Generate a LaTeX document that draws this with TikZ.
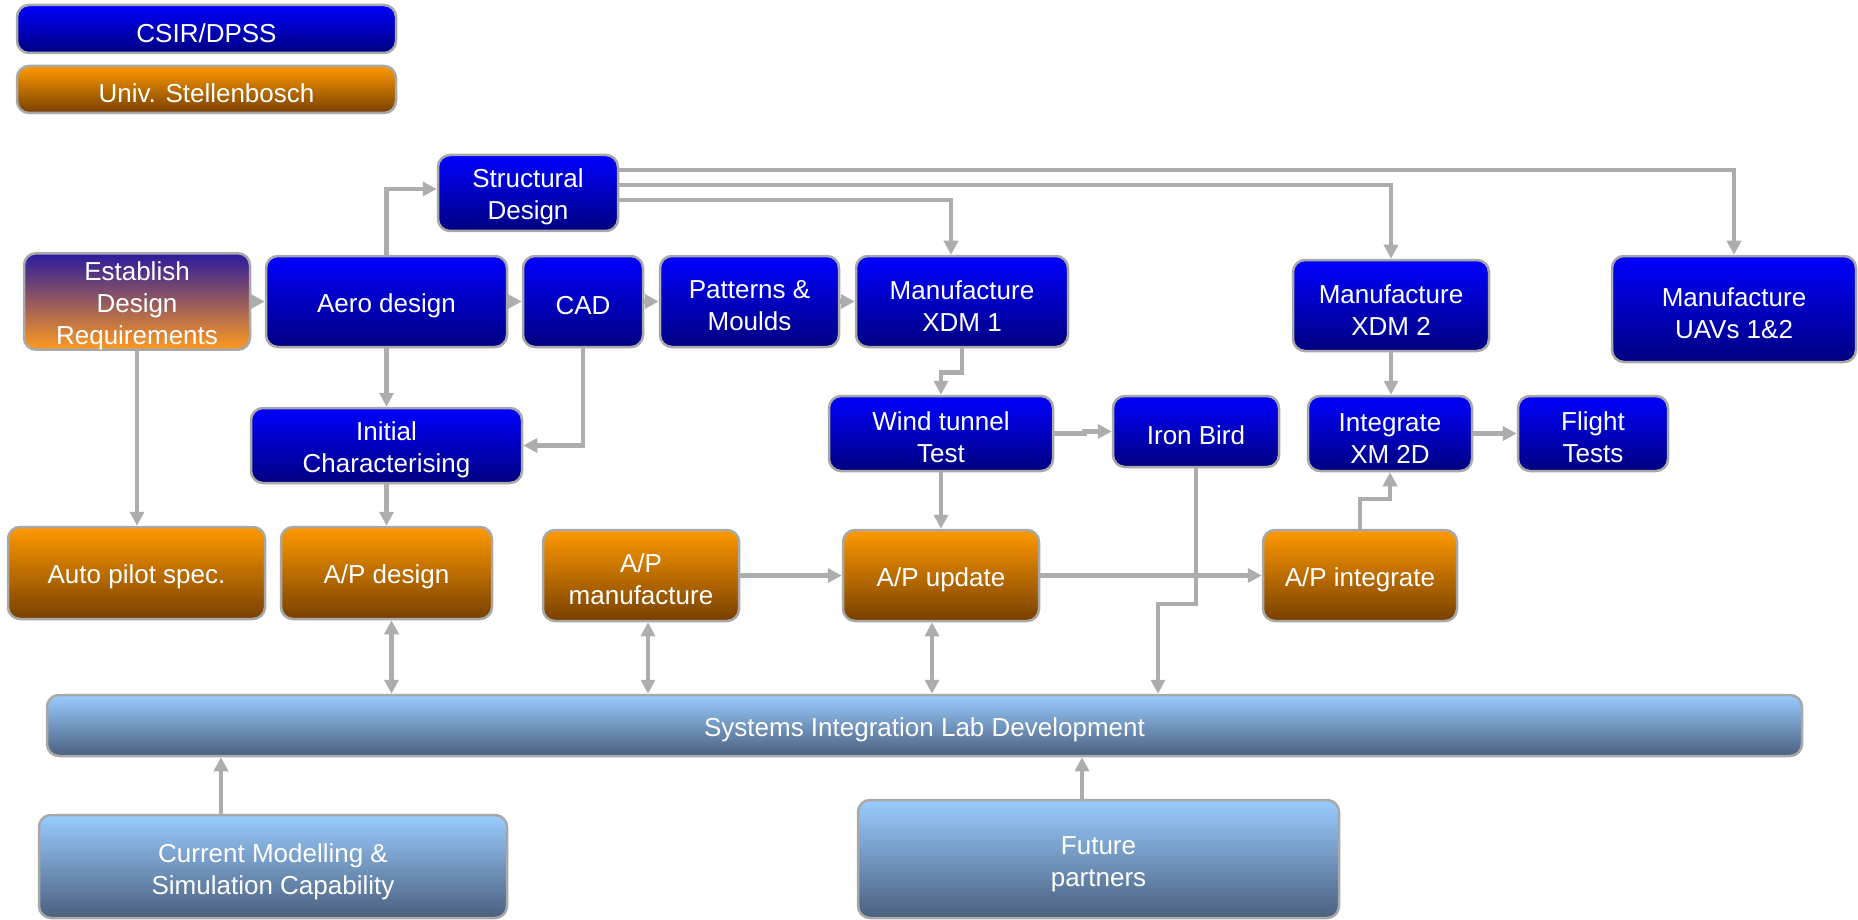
\documentclass[tikz,border=0pt]{standalone}
\usepackage{fontspec}
\setmainfont{Liberation Sans}
\usetikzlibrary{arrows.meta}
\definecolor{bluetop}{HTML}{0000FF}
\definecolor{bluebot}{HTML}{000080}
\definecolor{orgtop}{HTML}{FF9900}
\definecolor{orgbot}{HTML}{774000}
\definecolor{ltop}{HTML}{99CCFF}
\definecolor{lbot}{HTML}{4A5F7E}
\definecolor{esttop}{HTML}{2A1A9E}
\definecolor{estbot}{HTML}{FF9A1F}
\definecolor{bordergray}{HTML}{A8A8A8}
\definecolor{linegray}{HTML}{ADADAD}
\newcommand{\tstrut}{\rule{0pt}{27pt}}
\tikzset{
  box/.style={draw=bordergray, line width=2.5pt, rounded corners=12pt, inner sep=0pt,
    text=white, align=center, font=\fontsize{26pt}{32pt}\selectfont},
  bluebox/.style={box, top color=bluetop, bottom color=bluebot},
  orangebox/.style={box, top color=orgtop, bottom color=orgbot},
  lightbox/.style={box, top color=ltop, bottom color=lbot},
  estbox/.style={box, top color=esttop, bottom color=estbot},
  sz/.style 2 args={minimum width=#1pt, minimum height=#2pt},
  arr/.style={draw=linegray, line width=4.5pt, -{Triangle[length=14pt,width=14pt,fill=linegray]}},
  darr/.style={draw=linegray, line width=4.5pt, {Triangle[length=14pt,width=14pt,fill=linegray]}-{Triangle[length=14pt,width=14pt,fill=linegray]}},
}
\begin{document}
\begin{tikzpicture}[x=1pt,y=-1pt]
\useasboundingbox (0,0) rectangle (1858,920);
% legend
\node[bluebox, sz={379}{48}] (csir) at (206.5,29) {\tstrut CSIR/DPSS};
\node[orangebox, sz={379}{47}] (univ) at (206.5,89.5) {\tstrut Univ. Stellenbosch};
% blue row
\node[bluebox, sz={180}{76}] (struct) at (528,193) {\tstrut Structural\\Design};
\node[estbox, sz={226}{91}] (est) at (137,301.5) {\tstrut Establish\\Design\\Requirements};
\node[bluebox, sz={241}{91}] (aero) at (386.5,301.5) {\tstrut Aero design};
\node[bluebox, sz={120}{91}] (cad) at (583,301.5) {\tstrut CAD};
\node[bluebox, sz={179}{91}] (patt) at (749.5,301.5) {\tstrut Patterns \&\\Moulds};
\node[bluebox, sz={212}{91}] (xdm1) at (962,301.5) {\tstrut Manufacture\\XDM 1};
\node[bluebox, sz={196}{91}] (xdm2) at (1391,305.5) {\tstrut Manufacture\\XDM 2};
\node[bluebox, sz={244}{106}] (uav) at (1734,309) {\tstrut Manufacture\\UAVs 1\&2};
\node[bluebox, sz={271}{75}] (init) at (386.5,445.5) {\tstrut Initial\\Characterising};
\node[bluebox, sz={224}{75}] (wind) at (941,433.5) {\tstrut Wind tunnel\\Test};
\node[bluebox, sz={166}{71}] (iron) at (1196,431.5) {\tstrut Iron Bird};
\node[bluebox, sz={164}{75}] (integ) at (1390,433.5) {\tstrut Integrate\\XM 2D};
\node[bluebox, sz={150}{75}] (flight) at (1593,433.5) {\tstrut Flight\\Tests};
% orange row
\node[orangebox, sz={257}{92}] (apspec) at (136.5,573) {\tstrut Auto pilot spec.};
\node[orangebox, sz={211}{92}] (apdesign) at (386.5,573) {\tstrut A/P design};
\node[orangebox, sz={196}{91}] (apmanu) at (641,575.5) {\tstrut A/P\\manufacture};
\node[orangebox, sz={196}{91}] (apupdate) at (941,575.5) {\tstrut A/P update};
\node[orangebox, sz={194}{91}] (apint) at (1360,575.5) {\tstrut A/P integrate};
% light blue
\node[lightbox, sz={1755}{61}] (sil) at (924.5,725.5) {\tstrut Systems Integration Lab Development};
\node[lightbox, sz={468}{103}] (cms) at (273,866.5) {\rule{0pt}{29pt}Current Modelling \&\\Simulation Capability};
\node[lightbox, sz={481}{118}] (future) at (1098.5,859) {\rule{0pt}{29pt}Future\\partners};
% connectors
\draw[arr] (est) -- (aero);
\draw[arr] (aero) -- (cad);
\draw[arr] (cad) -- (patt);
\draw[arr] (patt) -- (xdm1);
\draw[arr] (aero.north) |- ([yshift=4pt]struct.west);
\draw[arr] (aero.south) -- (init.north);
\draw[arr] (cad.south) |- (init.east);
\draw[arr] (est.south) -- (est.south |- apspec.north);
\draw[arr] (init.south) -- (init.south |- apdesign.north);
\draw[arr] ([yshift=-7pt]struct.east) -| ([xshift=-11pt]xdm1.north);
\draw[arr] ([yshift=8pt]struct.east) -| (xdm2.north);
\draw[arr] ([yshift=23pt]struct.east) -| (uav.north);
\draw[arr] (xdm1.south) -- ++(0,-24pt) -| (wind.north);
\draw[arr] (wind.east) -- ++(30pt,0) |- (iron.west);
\draw[arr] (xdm2.south) -- (xdm2.south |- integ.north);
\draw[arr] (integ) -- (flight);
\draw[arr] (wind) -- (apupdate);
\draw[arr] (apmanu) -- (apupdate);
\draw[arr] (apupdate) -- (apint);
\draw[arr] (apint.north) -- ++(0,30pt) -| (integ.south);
\coordinate (ironjog) at (1158,604);
\draw[arr] (iron.south) |- (ironjog) -- (ironjog |- sil.north);
\draw[darr] ([xshift=5pt]apdesign.south) -- ([xshift=5pt]apdesign.south |- sil.north);
\draw[darr] ([xshift=7pt]apmanu.south) -- ([xshift=7pt]apmanu.south |- sil.north);
\draw[darr] ([xshift=-9pt]apupdate.south) -- ([xshift=-9pt]apupdate.south |- sil.north);
\draw[arr] ([xshift=-52pt]cms.north) -- ([xshift=-52pt]cms.north |- sil.south);
\draw[arr] ([xshift=-16.5pt]future.north) -- ([xshift=-16.5pt]future.north |- sil.south);
\end{tikzpicture}
\end{document}
